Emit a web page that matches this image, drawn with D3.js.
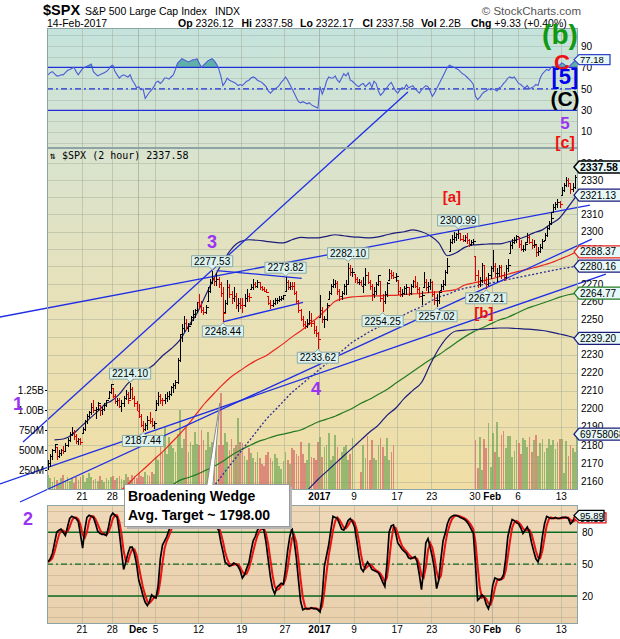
<!DOCTYPE html>
<html>
<head>
<meta charset="utf-8">
<title>$SPX (2 hour)</title>
<script src="https://cdn.jsdelivr.net/npm/d3@7/dist/d3.min.js"></script>
<style>
  html, body { margin: 0; padding: 0; background: #fff; }
  svg { display: block; font-family: "Liberation Sans", Arial, sans-serif; }
  .axis text { font-size: 10px; fill: #000; }
  .axis .domain { display: none; }
</style>
</head>
<body>
<svg id="chart" width="620" height="639"></svg>
<script>
const _ = null;

// ---- trading sessions shown (2-hour bars: 4 per full session, 2 on the half day) ----
const days = ["2016-11-15","2016-11-16","2016-11-17","2016-11-18","2016-11-21","2016-11-22","2016-11-23","2016-11-25",
  "2016-11-28","2016-11-29","2016-11-30","2016-12-01","2016-12-02","2016-12-05","2016-12-06","2016-12-07","2016-12-08","2016-12-09",
  "2016-12-12","2016-12-13","2016-12-14","2016-12-15","2016-12-16","2016-12-19","2016-12-20","2016-12-21","2016-12-22","2016-12-23",
  "2016-12-27","2016-12-28","2016-12-29","2016-12-30","2017-01-03","2017-01-04","2017-01-05","2017-01-06","2017-01-09","2017-01-10",
  "2017-01-11","2017-01-12","2017-01-13","2017-01-17","2017-01-18","2017-01-19","2017-01-20","2017-01-23","2017-01-24","2017-01-25",
  "2017-01-26","2017-01-27","2017-01-30","2017-01-31","2017-02-01","2017-02-02","2017-02-03","2017-02-06","2017-02-07","2017-02-08",
  "2017-02-09","2017-02-10","2017-02-13","2017-02-14"];
const halfDays = ["2016-11-25"];

// ---- $SPX 2-hour bars ----
const firstOpen = 2168.0;
const hi = [
  2172,2175,2178,2180.8, 2179,2177,2178,2179.2, 2181,2184,2187,2189.9, 2188.1,2186,2184,2184,
  2190,2194,2197,2198.7, 2203,2204.8,2201,2203.5, 2202,2201,2203,2204.7, 2210,2213.4,
  2211.6,2208,2206,2206, 2205,2207,2210.4,2209, 2214.1,2212,2207,2204, 2202.6,2197,2193,2192, 2196,2197.9,2195,2193,
  2205,2209.4,2208,2206, 2208,2209,2210,2212.5, 2214,2216,2228,2241.6, 2247,2251.7,2250,2248, 2252,2255,2256,2259.8,
  2264,2260,2257,2258, 2268,2273,2277.53,2274, 2276.2,2274,2271,2268, 2261,2272.1,2270,2266, 2268.1,2265,2262,2262,
  2262,2264,2267.3,2265, 2270,2272.6,2271,2272, 2271.2,2269,2268,2267, 2263.2,2261,2261,2262, 2262,2263,2263,2263.8,
  2273.82,2272,2271,2271, 2271.3,2266,2261,2256, 2252,2249,2250,2254.5, 2253.6,2249,2246,2243,
  2263.9,2257,2252,2259, 2266,2270,2272.8,2272, 2271.5,2267,2266,2270, 2272,2282.1,2281,2279,
  2275.5,2274,2273,2272, 2274,2279.3,2277,2272, 2270,2268,2271,2275.3, 2271.8,2264,2266,2271, 2278.7,2278,2277,2276,
  2272.1,2268,2267,2269, 2270,2268,2270,2272, 2274.3,2271,2268,2266, 2276.96,2273,2271,2273,
  2271.8,2266,2264,2266, 2270,2272,2278,2284.6, 2296,2298,2299.6,2299.3, 2300.99,2299,2298,2298, 2299,2296,2295,2296,
  2286,2278,2274,2282, 2281,2274,2276,2280, 2289.6,2282,2279,2281, 2281,2277,2281,2283.97, 2294,2296,2297,2298.3,
  2296.8,2295,2292,2294, 2299.4,2298,2296,2295, 2292,2291,2293,2295.9, 2299,2303,2306,2311.1, 2316,2317,2319.2,2318,
  2326,2328,2331.6,2331, 2328,2328,2333,2337.58];
const lo = [
  2166.4,2168,2172,2176, 2172.2,2173,2174,2175.5, 2176.7,2179,2182,2185, 2183,2181,2180.2,2180.5,
  2186.4,2188,2192,2195, 2197,2198,2194.5,2199, 2196,2197,2199,2201, 2206,2208.5,
  2206,2203,2202,2200.4, 2198.2,2201,2205,2203, 2206,2205,2201,2198.8, 2195,2190,2187.44,2188, 2188.4,2192,2190,2189,
  2199,2202,2203,2202, 2202.7,2204,2205,2207, 2208.9,2211,2214,2226, 2237.6,2243,2244,2243, 2247,2249.2,2251,2254,
  2256,2254,2252.4,2253, 2260.3,2265,2270,2269, 2269,2268,2263,2248.44, 2253.8,2258,2262,2259, 2260,2256,2254.2,2256,
  2253.8,2257,2260,2260, 2266.9,2267,2268,2268, 2267,2266,2265.5,2265.2, 2258,2256.1,2257,2258, 2258.8,2260,2260.5,2261,
  2266.2,2267,2267,2267, 2264,2259,2254,2249.1, 2246,2244.6,2245,2247, 2246,2242,2240,2233.62,
  2251,2248,2245.1,2249, 2261.6,2264,2268,2268, 2264,2260.5,2261,2264, 2264.1,2270,2275,2274,
  2271,2270,2269.5,2268.9, 2265.3,2269,2270,2267, 2260.8,2262,2264,2269, 2260,2254.25,2259,2263, 2272,2273,2273,2271.5,
  2264,2262.8,2263,2264, 2264,2263.4,2264,2268, 2268,2265,2262,2258.4, 2268,2266,2265,2267,
  2263,2258,2257.02,2259, 2266.7,2267,2269,2276, 2288.9,2293,2294,2295, 2296,2295,2294.1,2294.5, 2293,2291.6,2292,2292.5,
  2272,2268,2268.5,2271, 2270,2267.21,2269,2273, 2277,2274,2271.6,2274, 2273,2271.65,2273,2277, 2287.9,2290,2293,2294,
  2291,2289,2288.6,2289, 2294,2293,2290.2,2291, 2285.4,2286,2288,2290, 2295.1,2297,2301,2304, 2311.1,2313,2314,2314,
  2321.4,2323,2326,2326, 2322.17,2323,2325,2331];
const cl = [
  2170,2174,2177,2180.4, 2174,2175.5,2177.5,2176.9, 2180,2183,2186,2187.1, 2185,2182,2183.5,2181.9,
  2189,2193,2196,2198.2, 2201,2199,2200,2202.9, 2199,2200,2202,2204.7, 2209,2213.4,
  2207,2204,2205,2201.7, 2203,2206,2208,2204.7, 2211,2206,2203,2198.8, 2196,2191,2189,2191.1, 2194,2193,2191,2191.9,
  2203,2207,2205,2204.7, 2206,2207,2208,2212.2, 2213,2215,2227,2241.4, 2245,2248,2245,2246.2, 2251,2253,2255,2259.5,
  2258,2255,2254,2257, 2266,2271,2273,2271.7, 2273,2270,2265,2253.3, 2259,2268,2264,2262, 2263,2258,2259,2258.1,
  2258,2262,2263,2262.5, 2268,2270,2269,2270.8, 2268,2267,2266,2265.2, 2259,2258,2259,2261, 2261,2261.5,2262,2263.8,
  2271,2268,2269,2268.9, 2265,2260,2255,2249.9, 2247,2246,2248,2249.3, 2248,2244,2242,2238.8,
  2255,2250,2250,2257.8, 2265,2269,2270,2270.75, 2266,2263,2265,2269, 2270,2279,2277,2277,
  2273,2271,2271,2268.9, 2270,2275,2271,2268.9, 2264,2266,2270,2275.3, 2262,2260,2264,2270.4, 2276,2275,2274,2274.6,
  2266,2264,2265,2267.9, 2268,2265,2269,2271.9, 2269,2267,2263,2263.7, 2271,2268,2269,2271.3,
  2264,2261,2261,2265.2, 2269,2270,2277,2280.1, 2294,2296,2297,2298.4, 2299,2296,2295,2296.7, 2295,2293,2294,2294.7,
  2275,2270,2272,2280.9, 2272,2270,2275,2278.9, 2280,2276,2276,2279.6, 2275,2274,2279,2280.85, 2292,2294,2295,2297.4,
  2293,2290,2290,2292.6, 2297,2294,2292,2293.1, 2288,2289,2291,2294.7, 2298,2302,2305,2307.9, 2314,2316,2317,2316.1,
  2324,2327,2330,2328.25, 2325,2326,2332,2337.58];

// ---- volume per bar, millions of shares (null = no volume reported) ----
const volM = [
  190,150,100,160, 125,90,150,190, 125,160,110,150, 90,160,125,160,
  190,100,150,210, 160,120,140,110, 170,130,100,150, 120,160,
  180,130,150,170, 140,120,200,160, 130,190,170,150, 210,180,160,220, 190,170,230,200,
  410,380,590,460, 790,450,660,560, 520,480,700,1000, 520,640,790,480, 600,560,720,580,
  560,750,625,500, 720,540,600,520, 580,560,1210,560, 710,600,500,640, 520,560,900,600,
  590,420,380,520, 460,400,350,480, 400,330,300,440, 480,400,360,450, 400,300,260,360,
  470,380,330,530, 500,450,420,600, 450,340,375,590, 410,400,380,600,
  660,410,540,560, 710,375,420,690, 540,400,480,540, 560,375,450,650,
  _,_,_,225, 565,400,680,375, 625,400,375,560, 650,540,420,650, 375,470,565,_,
  _,_,_,_, _,_,_,_, _,_,_,_, _,_,_,_,
  _,_,_,_, _,_,_,_, _,_,_,_, _,_,_,_, _,_,_,_,
  625,275,660,250, 640,520,840,290, 710,480,855,410, 690,740,520,680, 680,410,490,620,
  590,450,650,625, 540,660,480,625, 690,430,590,640, 480,530,640,560, 620,510,600,640,
  640,210,615,430, 560,520,480,697.58068];

// ---- RSI(14) per bar ----
const rsi = [
  63,65,66,64,62,62,63,63,65,67, 68,69,70,66,63,66,69,70,71,72, 73,66,64,62,63,64,65,66,68,71,
  72,66,63,60,62,63,62,61,63,58, 55,51,52,49,50,41,44,47,49,52, 56,57,55,57,60,60,59,61,63,68,
  74,76,78,77,76,75,76,77,77,78, 74,70,72,74,76,77,78,76,73,69, 62,53,56,60,58,57,56,55,53,54,
  53,55,57,58,60,61,60,58,57,56, 54,52,48,46,48,50,51,53,56,58, 61,58,54,50,46,42,38,37,38,37,
  36,37,35,34,33,32,52,45,50,57, 61,60,60,62,58,56,60,64,62,65, 58,57,55,53,52,54,55,52,54,56,
  51,57,55,48,44,46,49,51,54,56, 52,48,46,49,51,50,54,51,52,53, 50,48,46,49,51,53,52,48,43,46,
  50,54,58,62,66,70,72,71,70,69, 68,66,64,63,61,59,57,54,43,40, 42,45,47,48,50,49,50,49,48,51,
  52,55,57,60,61,60,61,58,55,54, 52,51,53,50,51,52,54,53,60,64, 66,68,67,70,71,70,72,72,74,73,
  71,70,72,74,76,77.18];

// ---- slow stochastic %K per bar ----
const stochK = [
  52,55,60,70,80,82,83,80,77,85, 93,95,94,93,90,78,65,82,94,96, 95,94,88,81,79,78,78,77,85,95,
  98,96,94,80,62,45,52,60,66,66, 60,50,35,28,20,14,11,15,21,19, 18,30,55,68,72,76,82,88,92,95,
  96,97,96,94,95,93,94,96,95,92, 90,88,87,85,88,92,93,90,85,82, 71,62,52,50,48,49,51,50,48,44,
  37,40,46,51,62,72,76,82,85,84, 82,70,54,38,27,22,28,30,32,31, 45,63,76,84,72,56,35,15,7,8,
  8,8,9,8,8,7,5,20,48,58, 68,82,95,94,93,88,83,82,86,91, 93,90,85,72,58,46,43,48,52,49,
  45,44,43,42,38,33,29,50,80,86, 87,80,70,67,64,62,60,56,55,56, 57,52,40,26,45,70,74,66,57,45,
  27,35,55,72,79,88,93,95,96,96, 95,94,93,92,90,87,83,79,50,16, 18,21,19,12,8,15,30,37,36,35,
  36,40,55,76,85,92,91,89,88,84, 79,82,85,80,70,62,55,52,60,76, 88,95,94,93,93,94,93,93,94,94,
  94,93,88,90,94.7,95.89];

// ---- daily indicator values (one per session, at the session's last bar) ----
const bbUpper = [2182.8,2183.3,2185.5,2189.8,2194.2,2198.5,2203,2204,2208,2214, 2217.8,2221.1,2224.4,2229.4,2233.3,2238.2,2246,2253.3,2263.5,2273.6,
  2282.7,2290.1,2294.2,2295.3,2295,2294.4,2293.8,2293.5,2295.3,2296.7, 2296.4,2296.4,2297.3,2298.2,2297.6,2297,2296.7,2296.4,2297,2298.2,
  2299.3,2299.9,2301,2299.9,2297.6,2293.5,2286.1,2287.8,2290.9,2292.3, 2292.6,2292.9,2292.9,2294,2295.3,2297,2299.3,2301,2304.5,2307.9,
  2314.3,2321.13];
const bbMiddle = [_,_,_,_,_,_,_,_,_,_, _,_,_,_,_,_,_,_,2155,2158,
  2164,2170,2176,2182,2188,2194,2199,2204,2209,2213, 2217,2221,2225,2229,2233,2237,2240,2243,2245.5,2248,
  2250,2252.5,2255,2257,2260,2262.5,2264,2266,2267.5,2268.5, 2269.5,2270.5,2271.5,2272.5,2273.5,2274.5,2275.5,2276.5,2277.5,2278.5,
  2279.3,2280.16];
const bbLower = [_,_,_,_,_,_,_,_,_,_, _,_,_,_,_,_,_,_,_,_, _,_,_,_,_,_,_,_,_,2152,
  2156.4,2161.2,2165.5,2169.8,2174.1,2178.4,2182.8,2187.1,2190.9,2196.3, 2200.2,2205.7,2210.1,2214.5,2224.4,2233.3,2239.9,2243.3,2243.8,2244.1,
  2244.4,2244.7,2245,2245,2244.7,2244.4,2244.1,2243.6,2242.7,2241.6, 2240.5,2239.2];
const ma100 = [_,_,_,_,_,_,_,_,2154.5,2158.6, 2163.4,2167.6,2172,2176.2,2181.1,2186,2191.5,2197.5,2203.4,2208.5,
  2213.4,2217.8,2221.1,2224.4,2227.2,2229.4,2232.8,2236.2,2240,2243.3, 2247.2,2251.1,2255.6,2260.1,2261.8,2262.6,2262.9,2263.2,2263.2,2263.5,
  2263.5,2264,2264.3,2264.6,2265.2,2265.5,2266,2266.8,2269.4,2270.5, 2271.6,2272.8,2274.1,2275.5,2276.9,2278,2279.2,2280.6,2282.1,2284.1,
  2286.1,2288.37];
const maLong = [_,_,_,_,_,_,_,_,_,_, _,_,_,2155,2157.8,2160.7,2162.3,2164,2166.2,2168.4,
  2171.1,2174.4,2177.1,2179.5,2181.7,2183.3,2184.9,2186,2187.1,2188.2, 2190.4,2192.6,2194.2,2195.8,2198,2200.2,2203,2205.2,2207.9,2210.6,
  2214,2217.3,2220.6,2223.9,2227.2,2229.9,2233.3,2236.7,2240,2242.8, 2245,2247.3,2249.5,2251.1,2253.3,2255.6,2257.4,2259,2260.7,2262.5,
  2263.8,2264.77];

// ---- trend lines: [bar index, price] pairs ----
const trendLines = [
  [[-11.1, 2181.6], [167.2, 2382.1]],
  [[-21.8, 2251.2], [251.5, 2315.4]],
  [[-12.5, 2149.0], [252.4, 2295.7]],
  [[-21.8, 2158.8], [258.9, 2275.6]],
  [[78.6, 2277.6], [118.0, 2273.2]],
  [[81.5, 2248.5], [118.6, 2259.5]]
];

// ---- labelled swing highs / lows (bar index, H = high, L = low) ----
const pivots = [[38,"H"],[44,"L"],[76,"H"],[81,"L"],[110,"H"],[125,"L"],[139,"H"],[155,"L"],[180,"L"],[190,"H"],[203,"L"]];

// ---- axis ticks (price levels sitting under a value tag are left unlabelled) ----
const priceTicks = [2160,2170,2180,2190,2200,2210,2220,2230,2240,2250,2260,2270,2280,2290,2300,2310,2320,2330,2340];
const priceTickLabels = [2160,2170,2180,2190,2200,2210,2220,2230,2250,2260,2270,2290,2300,2310,2330,2340];
const volTicks = [250e6, 500e6, 750e6, 1000e6, 1250e6];
const rsiTicks = [10,30,50,70,90];
const stTicks = [20,50,80];
const dateTicks = [["2016-11-21","21"],["2016-11-28","28"],["2016-12-01","Dec"],["2016-12-05","5"],["2016-12-12","12"],
  ["2016-12-19","19"],["2016-12-27","27"],["2017-01-03","2017"],["2017-01-09","9"],["2017-01-17","17"],["2017-01-23","23"],
  ["2017-01-30","30"],["2017-02-01","Feb"],["2017-02-06","6"],["2017-02-13","13"]];

// ---- Elliott wave annotations on the price panel: [text, bar index, price, degree] ----
const waveMarks = [
  ["1", -13.4, 2199.0, "wave"],
  ["3", 76.4, 2290.8, "wave"],
  ["4", 124.6, 2207.5, "wave"],
  ["[a]", 187.6, 2317.0, "minor"],
  ["[b]", 202.4, 2250.6, "minor"]
];

// ================= layout =================
const L = 47, R = 578;
const RSI_T = 28, RSI_B = 148, MAIN_T = 148, MAIN_B = 490, ST_T = 505, ST_B = 624;
const CALLOUT = { x: 124.5, y: 484.5, w: 165, h: 42 };

const barsPerDay = days.map(d => halfDays.includes(d) ? 2 : 4);
const dayStart = [], dayEnd = [];
let nb = 0;
barsPerDay.forEach(b => { dayStart.push(nb); nb += b; dayEnd.push(nb - 1); });
const nBars = nb;

const x = d3.scaleLinear().domain([0, nBars]).range([L, R]);
const cx = i => x(i + 0.5);
const y = d3.scaleLog().domain([2155.5, 2348.8]).range([MAIN_B, MAIN_T]);
const yVol = d3.scaleLinear().domain([0, 1.25e9]).range([MAIN_B, 390]);
const yRsi = d3.scaleLinear().domain([-5.1, 106.6]).range([RSI_B, RSI_T]);
const ySt = d3.scaleLinear().domain([-6.4, 105.7]).range([ST_B, ST_T]);

const prevClose = i => i === 0 ? firstOpen : cl[i - 1];
const isUp = i => cl[i] >= prevClose(i);
const fmt2 = d3.format(".2f");

const svg = d3.select("#chart");
svg.append("rect").attr("width", 620).attr("height", 639).attr("fill", "#fff");

const defs = svg.append("defs");
const gu = defs.append("linearGradient").attr("id", "bgUpper").attr("gradientUnits", "userSpaceOnUse")
  .attr("x1", 0).attr("y1", RSI_T).attr("x2", 0).attr("y2", MAIN_B);
[[0, "#c4e3dc"], [0.26, "#d8e3cf"], [0.6, "#e8e1b8"], [1, "#f0dea5"]].forEach(([o, c]) => gu.append("stop").attr("offset", o).attr("stop-color", c));
const gl = defs.append("linearGradient").attr("id", "bgLower").attr("gradientUnits", "userSpaceOnUse")
  .attr("x1", 0).attr("y1", ST_T).attr("x2", 0).attr("y2", ST_B);
[[0, "#eed8b8"], [1, "#e9d0ad"]].forEach(([o, c]) => gl.append("stop").attr("offset", o).attr("stop-color", c));
[["clipMain", MAIN_T, MAIN_B], ["clipRsi", RSI_T, RSI_B], ["clipSt", ST_T, ST_B]].forEach(([id, t, b]) =>
  defs.append("clipPath").attr("id", id).append("rect").attr("x", L).attr("y", t).attr("width", R - L).attr("height", b - t));

// panel backgrounds
svg.append("rect").attr("x", L).attr("y", RSI_T).attr("width", R - L).attr("height", MAIN_B - RSI_T).attr("fill", "url(#bgUpper)");
svg.append("rect").attr("x", L).attr("y", ST_T).attr("width", R - L).attr("height", ST_B - ST_T).attr("fill", "url(#bgLower)");

// grid
const tickInfo = dateTicks.map(([d, t]) => ({ i: dayStart[days.indexOf(d)], t, bold: /^[A-Za-z]|^\d{4}$/.test(t) }));
const tickByIdx = new Map(tickInfo.map(d => [d.i, d]));
const gGrid = svg.append("g").attr("shape-rendering", "crispEdges");
[[RSI_T, RSI_B], [MAIN_T, MAIN_B], [ST_T, ST_B]].forEach(([t, b]) => {
  gGrid.append("g").selectAll("line").data(tickInfo).join("line")
    .attr("x1", d => Math.round(x(d.i)) + 0.5).attr("x2", d => Math.round(x(d.i)) + 0.5)
    .attr("y1", t).attr("y2", b)
    .attr("stroke", d => d.bold ? "#8f9a86" : "#a9b09a").attr("stroke-opacity", 0.55);
});
const hGrid = (vals, sc, col) => gGrid.append("g").selectAll("line").data(vals).join("line")
  .attr("x1", L).attr("x2", R).attr("y1", d => Math.round(sc(d)) + 0.5).attr("y2", d => Math.round(sc(d)) + 0.5)
  .attr("stroke", col).attr("stroke-opacity", 0.45);
hGrid(priceTicks, y, "#a3aa92");
hGrid([0,10,20,30,40,50,60,70,80,90,100], yRsi, "#9fb0a6");
hGrid([0,10,20,30,40,50,60,70,80,90,100], ySt, "#b9a283");

// ================= RSI panel =================
const gRsi = svg.append("g").attr("clip-path", "url(#clipRsi)");
gRsi.append("path").datum(rsi)
  .attr("d", d3.area().x((v, i) => cx(i)).y0(yRsi(70)).y1(v => yRsi(Math.max(v, 70))))
  .attr("fill", "#5fb0a8");
[[70, null], [30, null], [50, "6,3,2,3"]].forEach(([v, dash]) =>
  gRsi.append("line").attr("x1", L).attr("x2", R).attr("y1", yRsi(v)).attr("y2", yRsi(v))
    .attr("stroke", "#2030d8").attr("stroke-width", 1.3).attr("stroke-dasharray", dash));
gRsi.append("path").datum(rsi)
  .attr("d", d3.line().x((v, i) => cx(i)).y(v => yRsi(v)))
  .attr("fill", "none").attr("stroke", "#4c5cd6").attr("stroke-width", 1.1);

// ================= price panel =================
const gMain = svg.append("g").attr("clip-path", "url(#clipMain)");
// volume
const volData = volM.map((v, i) => ({ i, v })).filter(d => d.v != null);
gMain.append("g").attr("shape-rendering", "crispEdges").selectAll("rect").data(volData).join("rect")
  .attr("x", d => x(d.i) + 0.3).attr("width", 1.7)
  .attr("y", d => yVol(d.v * 1e6)).attr("height", d => MAIN_B - yVol(d.v * 1e6))
  .attr("fill", d => isUp(d.i) ? "#76a85a" : "#d46a68").attr("fill-opacity", 0.72);

// indicator overlays
const dayLine = d3.line().defined(d => d.v != null).x(d => cx(dayEnd[d.k])).y(d => y(d.v)).curve(d3.curveMonotoneX);
const drawDaily = (arr, color, width, dash) => gMain.append("path").datum(arr.map((v, k) => ({ k, v })))
  .attr("d", dayLine).attr("fill", "none").attr("stroke", color).attr("stroke-width", width).attr("stroke-dasharray", dash);
drawDaily(maLong, "#237a23", 1.2, null);
drawDaily(ma100, "#e8261f", 1.2, null);
drawDaily(bbMiddle, "#2b2b9a", 1.3, "2,2");
drawDaily(bbUpper, "#1c1c7a", 1.2, null);
drawDaily(bbLower, "#1c1c7a", 1.2, null);

// trend lines (drawn across panels)
svg.append("g").selectAll("line").data(trendLines).join("line")
  .attr("x1", d => x(d[0][0])).attr("y1", d => y(d[0][1]))
  .attr("x2", d => x(d[1][0])).attr("y2", d => y(d[1][1]))
  .attr("stroke", "#1e2ee6").attr("stroke-width", 1.3);

// OHLC bars
const gBars = svg.append("g").attr("shape-rendering", "crispEdges");
const bars = gBars.selectAll("g").data(d3.range(nBars)).join("g")
  .attr("stroke", i => isUp(i) ? "#000" : "#e00000").attr("stroke-width", 1);
const openOf = i => Math.min(hi[i], Math.max(lo[i], prevClose(i)));
bars.append("line").attr("x1", i => Math.round(cx(i)) + 0.5).attr("x2", i => Math.round(cx(i)) + 0.5)
  .attr("y1", i => y(hi[i])).attr("y2", i => y(lo[i]) + 0.5);
bars.append("line").attr("x1", i => Math.round(cx(i)) - 1.5).attr("x2", i => Math.round(cx(i)) + 0.5)
  .attr("y1", i => Math.round(y(openOf(i))) + 0.5).attr("y2", i => Math.round(y(openOf(i))) + 0.5);
bars.append("line").attr("x1", i => Math.round(cx(i)) + 0.5).attr("x2", i => Math.round(cx(i)) + 2.5)
  .attr("y1", i => Math.round(y(cl[i])) + 0.5).attr("y2", i => Math.round(y(cl[i])) + 0.5);

// swing labels
const gPiv = svg.append("g");
pivots.forEach(([i, k]) => {
  const val = k === "H" ? hi[i] : lo[i];
  const px = cx(i), py = y(val);
  const g = gPiv.append("g");
  const t = g.append("text").text(fmt2(val)).attr("font-size", 10).attr("text-anchor", "middle").attr("x", px).attr("fill", "#000");
  const w = t.node().getComputedTextLength() + 5, h = 11;
  const by = k === "H" ? py - 4 - h : py + 4;
  t.attr("y", by + 9);
  const l = px - w / 2, r = px + w / 2;
  const d = k === "H"
    ? `M${l},${by}H${r}V${by + h}H${px + 3}L${px},${py - 1}L${px - 3},${by + h}H${l}Z`
    : `M${l},${by}H${px - 3}L${px},${py + 1}L${px + 3},${by}H${r}V${by + h}H${l}Z`;
  g.insert("path", "text").attr("d", d).attr("fill", "#dcf2ee").attr("stroke", "#8aa9a6").attr("stroke-width", 1);
});

// ================= stochastic panel =================
const stochD = stochK.map((v, i) => d3.mean(stochK.slice(Math.max(0, i - 2), i + 1)));
const gSt = svg.append("g").attr("clip-path", "url(#clipSt)");
[[80, null], [20, null], [50, "6,3,2,3"]].forEach(([v, dash]) =>
  gSt.append("line").attr("x1", L).attr("x2", R).attr("y1", ySt(v)).attr("y2", ySt(v))
    .attr("stroke", "#0b6a22").attr("stroke-width", 1.4).attr("stroke-dasharray", dash));
const stLine = d3.line().x((v, i) => cx(i)).y(v => ySt(v));
gSt.append("path").datum(stochD).attr("d", stLine).attr("fill", "none").attr("stroke", "#ee1111").attr("stroke-width", 2);
gSt.append("path").datum(stochK).attr("d", stLine).attr("fill", "none").attr("stroke", "#000").attr("stroke-width", 1.7);

// panel frames
[[RSI_T, RSI_B], [MAIN_T, MAIN_B], [ST_T, ST_B]].forEach(([t, b]) =>
  svg.append("rect").attr("x", L + 0.5).attr("y", t + 0.5).attr("width", R - L - 1).attr("height", b - t - 1)
    .attr("fill", "none").attr("stroke", "#8ea4a4").attr("stroke-width", 1));

// ================= axes =================
svg.append("g").attr("class", "axis").attr("transform", `translate(${R},0)`)
  .call(d3.axisRight(y).tickValues(priceTickLabels).tickFormat(d3.format("d")).tickSize(0).tickPadding(3));
svg.append("g").attr("class", "axis").attr("transform", `translate(${R},0)`)
  .call(d3.axisRight(yRsi).tickValues(rsiTicks).tickSize(0).tickPadding(3));
svg.append("g").attr("class", "axis").attr("transform", `translate(${R},0)`)
  .call(d3.axisRight(ySt).tickValues(stTicks).tickSize(0).tickPadding(4));
const volAxis = svg.append("g").attr("class", "axis").attr("transform", `translate(${L},0)`)
  .call(d3.axisLeft(yVol).tickValues(volTicks)
    .tickFormat(v => v >= 1e9 ? (v / 1e9).toFixed(2) + "B" : (v / 1e6) + "M").tickSize(2).tickPadding(1));
volAxis.selectAll("text").attr("font-size", 8.6);
volAxis.selectAll("line").attr("stroke", "#000");
// the price panel's date row is partly covered by the pattern callout, so only the uncovered dates are labelled there
const underCallout = i => x(i) > CALLOUT.x - 6 && x(i) < CALLOUT.x + CALLOUT.w + 6;
const dateAxis = (vals, pad) => d3.axisBottom(x).tickValues(vals)
  .tickFormat(v => tickByIdx.get(v).t).tickSize(0).tickPadding(pad);
[[MAIN_B, 3, tickInfo.filter(d => !underCallout(d.i))], [ST_B, 2, tickInfo]].forEach(([yy, pad, list]) => {
  svg.append("g").attr("class", "axis").attr("transform", `translate(0,${yy})`).call(dateAxis(list.map(d => d.i), pad))
    .selectAll("text").attr("font-weight", v => tickByIdx.get(v).bold ? "bold" : null);
});

// ================= value tags on the right =================
function tag(yc, text, stroke, o = {}) {
  const x0 = 574, h = o.h || 12, w = o.w || 48;
  const g = svg.append("g");
  g.append("path").attr("d", `M${x0},${yc}L${x0 + 5},${yc - h / 2}H${x0 + w}V${yc + h / 2}H${x0 + 5}Z`)
    .attr("fill", "#e6f8f8").attr("stroke", stroke).attr("stroke-width", o.sw || 1.3);
  g.append("text").attr("x", x0 + 6).attr("y", yc + 3.6).text(text)
    .attr("font-size", o.fs || 10).attr("font-weight", o.bold ? "bold" : null).attr("fill", "#000");
}
const last = a => a[a.length - 1];
tag(y(last(cl)), fmt2(last(cl)), "#000", { bold: true, fs: 10.5, sw: 1.5 });
tag(y(last(bbUpper)), fmt2(last(bbUpper)), "#1c1c7a");
tag(y(last(ma100)), fmt2(last(ma100)), "#e8261f");
tag(y(last(bbMiddle)), fmt2(last(bbMiddle)), "#1c1c7a");
tag(y(last(maLong)), fmt2(last(maLong)), "#237a23");
tag(y(last(bbLower)), fmt2(last(bbLower)), "#1c1c7a");
tag(yVol(last(volM) * 1e6), d3.format("d")(Math.round(last(volM) * 1e6)), "#1c1c7a", { w: 60 });
tag(yRsi(last(rsi)), fmt2(last(rsi)), "#3344cc", { h: 10, w: 36, fs: 9.5 });
tag(ySt(last(stochD)), fmt2(last(stochD)), "#ee1111", { h: 10, w: 32, fs: 9.5 });
tag(ySt(last(stochK)), fmt2(last(stochK)), "#000", { h: 10, w: 30, fs: 9.5 });

// ================= header =================
const hdr = svg.append("g").attr("fill", "#000");
hdr.append("text").attr("x", 43).attr("y", 15).attr("font-size", 14.5).attr("font-weight", "bold").text("$SPX");
hdr.append("text").attr("x", 85).attr("y", 15).attr("font-size", 10.5).text("S&P 500 Large Cap Index");
hdr.append("text").attr("x", 215).attr("y", 15).attr("font-size", 10.5).text("INDX");
hdr.append("text").attr("x", 581).attr("y", 15).attr("font-size", 11.5).attr("text-anchor", "end").attr("fill", "#555").text("© StockCharts.com");
hdr.append("text").attr("x", 47).attr("y", 26.5).attr("font-size", 10.5).text("14-Feb-2017");
const quote = [["Op", "2326.12", 178], ["Hi", "2337.58", 241.5], ["Lo", "2322.17", 300], ["Cl", "2337.58", 362.5], ["Vol", "2.2B", 421], ["Chg", "+9.33 (+0.40%)", 471]];
quote.forEach(([k, v, px]) => {
  const t = hdr.append("text").attr("x", px).attr("y", 26.5).attr("font-size", 10.5);
  t.append("tspan").attr("font-weight", "bold").text(k);
  t.append("tspan").text(" " + v);
});
svg.append("text").attr("x", 50).attr("y", 159).attr("font-family", "DejaVu Sans Mono, monospace").attr("font-size", 10)
  .text("⇅ $SPX (2 hour) " + fmt2(last(cl)));

// ================= wave annotations =================
const purple = "#9a33f2";
const gWave = svg.append("g").attr("font-weight", "bold").attr("text-anchor", "middle");
waveMarks.forEach(([t, i, p, kind]) => {
  gWave.append("text").attr("x", x(i)).attr("y", y(p)).text(t)
    .attr("font-size", kind === "wave" ? 18 : 15).attr("fill", kind === "wave" ? purple : "#ee1111");
});
gWave.append("text").attr("x", 28).attr("y", 525).attr("font-size", 18).attr("fill", purple).text("2");
gWave.append("text").attr("x", 560).attr("y", 44).attr("font-size", 28).attr("fill", "#119911").text("(b)");
gWave.append("text").attr("x", 562).attr("y", 70).attr("font-size", 22).attr("fill", "#ee1111").text("C");
gWave.append("text").attr("x", 565).attr("y", 84).attr("font-size", 22).attr("fill", "#0000ee").text("[5]");
gWave.append("text").attr("x", 565).attr("y", 106).attr("font-size", 21).attr("fill", "#000").text("(C)");
gWave.append("text").attr("x", 565).attr("y", 129).attr("font-size", 17).attr("fill", purple).text("5");
gWave.append("text").attr("x", 565).attr("y", 148).attr("font-size", 16).attr("fill", "#ee1111").text("[c]");

// ================= pattern callout =================
const tipX = x(80.1), tipY = y(2203.1);
const gCall = svg.append("g");
gCall.append("rect").attr("x", CALLOUT.x + 2.5).attr("y", CALLOUT.y + 2.5).attr("width", CALLOUT.w).attr("height", CALLOUT.h).attr("fill", "#b5b5b5");
gCall.append("rect").attr("x", CALLOUT.x).attr("y", CALLOUT.y).attr("width", CALLOUT.w).attr("height", CALLOUT.h).attr("fill", "#fff").attr("stroke", "#9a9a9a");
gCall.append("path").attr("d", `M${tipX - 13},${CALLOUT.y + 0.5}L${tipX},${tipY}L${tipX - 7},${CALLOUT.y + 0.5}`).attr("fill", "#fff").attr("stroke", "#8a8a8a");
gCall.append("text").attr("x", CALLOUT.x + 3.5).attr("y", CALLOUT.y + 16.5).attr("font-size", 14).attr("font-weight", "bold").text("Broadening Wedge");
gCall.append("text").attr("x", CALLOUT.x + 3.5).attr("y", CALLOUT.y + 35.5).attr("font-size", 14).attr("font-weight", "bold").text("Avg. Target ~ 1798.00");
</script>
</body>
</html>
